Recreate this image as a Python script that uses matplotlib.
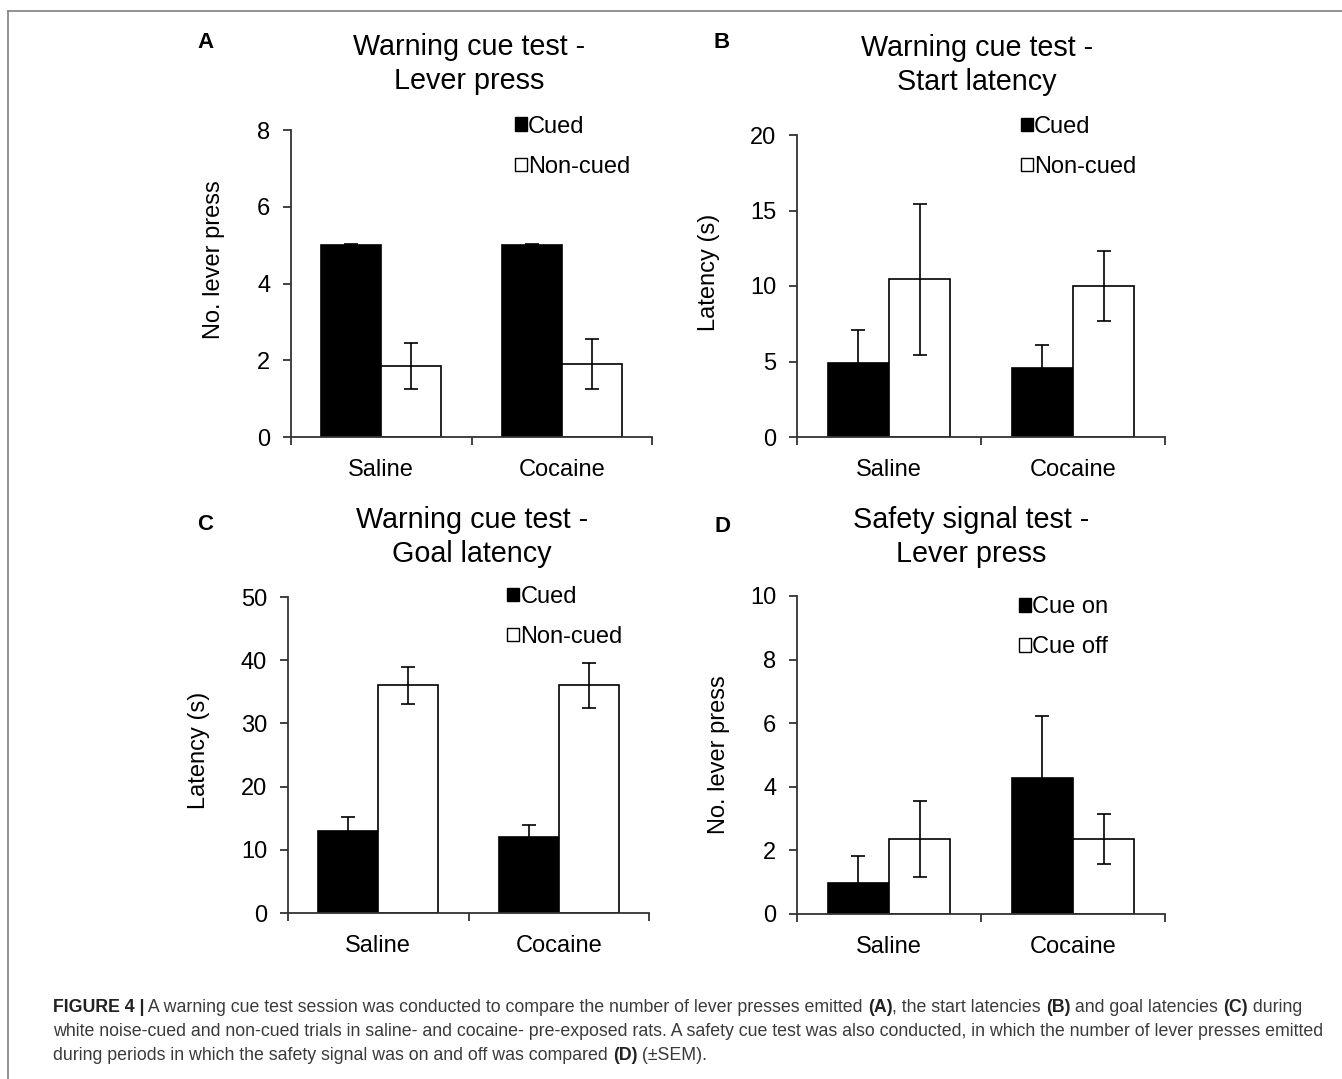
import numpy as np
import matplotlib
matplotlib.use("Agg")
import matplotlib.pyplot as plt
from matplotlib.patches import Patch
from matplotlib.lines import Line2D

#-------------------------------------------------------------------------------
# DATA
groups = ["Saline", "Cocaine"]

a_cued, a_cued_err = [5.0, 5.0], [0.03, 0.03]
a_non, a_non_err = [1.85, 1.9], [0.6, 0.65]

b_cued, b_cued_err = [4.9, 4.6], [2.2, 1.5]
b_non, b_non_err = [10.45, 10.0], [5.0, 2.3]

c_cued, c_cued_err = [13.0, 12.0], [2.2, 1.9]
c_non, c_non_err = [36.0, 36.0], [3.0, 3.6]

d_on, d_on_err = [0.97, 4.28], [0.85, 1.95]
d_off, d_off_err = [2.36, 2.36], [1.2, 0.8]
#-------------------------------------------------------------------------------

params = {'font.family'      : ['Liberation Sans', 'DejaVu Sans'],
          'font.size'        : 17,
          'axes.linewidth'   : 1.3,
          'axes.edgecolor'   : '#333333',
          'xtick.color'      : '#333333',
          'ytick.color'      : '#333333',
          'xtick.labelcolor' : 'black',
          'ytick.labelcolor' : 'black',
          'xtick.labelsize'  : 17,
          'ytick.labelsize'  : 17,
         }
matplotlib.rcParams.update(params)

W, H = 1342, 1079
fig = plt.figure(figsize=(W / 100, H / 100), dpi=100)


def px_axes(l, r, t, b):
    return fig.add_axes([l / W, 1 - b / H, (r - l) / W, (b - t) / H])


def bar_panel(ax, s1, e1, s2, e2, ymax, ystep, ylabel, labels, leg_xy):
    x = np.arange(len(groups))
    w = 1 / 3
    ax.bar(x - w / 2, s1, w, color='black', edgecolor='black', linewidth=1.2, zorder=2)
    ax.bar(x + w / 2, s2, w, color='white', edgecolor='black', linewidth=1.2, zorder=2)
    ax.errorbar(x - w / 2, s1, yerr=e1, fmt='none', ecolor='black', elinewidth=1.2,
                capsize=5, capthick=1.2, zorder=3)
    ax.errorbar(x + w / 2, s2, yerr=e2, fmt='none', ecolor='black', elinewidth=1.2,
                capsize=5, capthick=1.2, zorder=3)
    ax.set_xlim(-0.5, 1.5)
    ax.set_ylim(0, ymax)
    ax.set_yticks(np.arange(0, ymax + 0.01, ystep))
    ax.set_xticks(x)
    ax.set_xticklabels(groups)
    ax.set_xticks([-0.5, 0.5, 1.5], minor=True)
    ax.tick_params(axis='x', which='major', length=0, pad=16)
    ax.tick_params(axis='x', which='minor', length=6, width=1.3, direction='out')
    ax.tick_params(axis='y', length=6, width=1.3, direction='out', pad=9)
    for s in ['top', 'right']:
        ax.spines[s].set_visible(False)
    ax.set_ylabel(ylabel, fontsize=17)
    handles = [Patch(facecolor='black', edgecolor='black'),
               Patch(facecolor='white', edgecolor='black')]
    ax.legend(handles, labels, loc='upper left', bbox_to_anchor=leg_xy, frameon=False,
              handlelength=0.5, handleheight=0.5, handletextpad=0.05,
              labelspacing=0.77, borderpad=0, borderaxespad=0, fontsize=17)


#-------------------------------------------------------------------------------
# PANELS
axA = px_axes(291, 652, 130, 437)
bar_panel(axA, a_cued, a_cued_err, a_non, a_non_err, 8, 2, "No. lever press",
          ["Cued", "Non-cued"], (0.621, 1.047))
axB = px_axes(797, 1165, 135, 437)
bar_panel(axB, b_cued, b_cued_err, b_non, b_non_err, 20, 5, "Latency (s)",
          ["Cued", "Non-cued"], (0.608, 1.064))
axC = px_axes(288, 649, 597, 913)
bar_panel(axC, c_cued, c_cued_err, c_non, c_non_err, 50, 10, "Latency (s)",
          ["Cued", "Non-cued"], (0.608, 1.035))
axD = px_axes(797, 1165, 596, 914)
bar_panel(axD, d_on, d_on_err, d_off, d_off_err, 10, 2, "No. lever press",
          ["Cue on", "Cue off"], (0.603, 0.999))

ylab_pos = [(axA, 225, 260), (axB, 720, 272), (axC, 210, 750), (axD, 730, 755)]
for ax, px, py in ylab_pos:
    ax.yaxis.set_label_coords(px / W, 1 - py / H, transform=fig.transFigure)

titles = [("Warning cue test -\nLever press", 469, 64),
          ("Warning cue test -\nStart latency", 977, 65),
          ("Warning cue test -\nGoal latency", 472, 537),
          ("Safety signal test -\nLever press", 971, 537)]
for txt, px, py in titles:
    fig.text(px / W, 1 - py / H, txt, ha='center', va='center', fontsize=20.7,
             linespacing=1.28, multialignment='center')

letters = [("A", 205, 42), ("B", 722, 42), ("C", 205, 525), ("D", 722, 527)]
for txt, px, py in letters:
    fig.text(px / W, 1 - py / H, txt, ha='center', va='center', fontsize=16,
             fontweight='bold')
#-------------------------------------------------------------------------------

#-------------------------------------------------------------------------------
# FRAME AND CAPTION
fig.add_artist(Line2D([8 / W, 1], [1 - 11 / H, 1 - 11 / H], color='#808080', lw=1.2))
fig.add_artist(Line2D([8 / W, 8 / W], [0, 1 - 11 / H], color='#808080', lw=1.2))

renderer = fig.canvas.get_renderer()


def seg_width(txt, bold, size):
    # width including trailing spaces, measured against a sentinel
    t1 = fig.text(0, 0, txt + "|", fontsize=size, fontweight='bold' if bold else 'normal')
    t2 = fig.text(0, 0, "|", fontsize=size, fontweight='bold' if bold else 'normal')
    w = t1.get_window_extent(renderer).width - t2.get_window_extent(renderer).width
    t1.remove()
    t2.remove()
    return w


def rich_line(x, y, parts, size=12.8):
    for txt, bold in parts:
        fig.text(x / W, 1 - y / H, txt, fontsize=size, va='center', ha='left',
                 fontweight='bold' if bold else 'normal',
                 color='#222222' if bold else '#3a3a3a')
        x += seg_width(txt, bold, size)


caption = [
    [("FIGURE 4 |", True),
     (" A warning cue test session was conducted to compare the number of lever presses emitted ", False),
     ("(A)", True), (", the start latencies ", False), ("(B)", True),
     (" and goal latencies ", False), ("(C)", True), (" during", False)],
    [("white noise-cued and non-cued trials in saline- and cocaine- pre-exposed rats. "
      "A safety cue test was also conducted, in which the number of lever presses emitted", False)],
    [("during periods in which the safety signal was on and off was compared ", False),
     ("(D)", True), (" (\u00b1SEM).", False)],
]
for i, parts in enumerate(caption):
    rich_line(53, 1007 + 24.5 * i, parts)
#-------------------------------------------------------------------------------

plt.savefig("out.png", dpi=100)
